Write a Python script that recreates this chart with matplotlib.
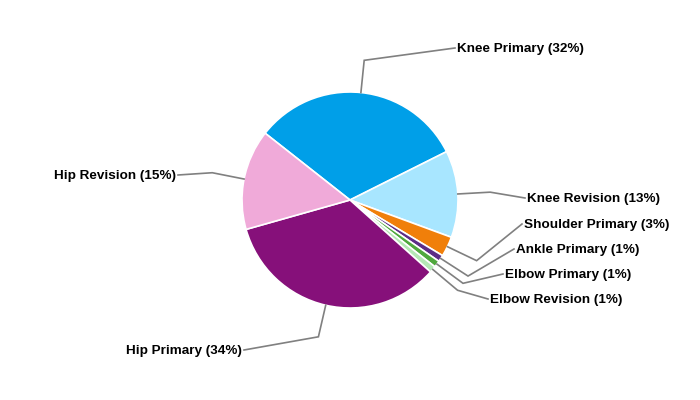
import matplotlib.pyplot as plt
import numpy as np

# slices in drawing order (clockwise from the top-left)
labels = ["Knee Primary", "Knee Revision", "Shoulder Primary", "Ankle Primary",
          "Elbow Primary", "Elbow Revision", "Hip Primary", "Hip Revision"]
shares = [32, 13, 3, 1, 1, 1, 34, 15]
colors = ["#009FE8", "#A8E6FF", "#F07F0A", "#5C2D87",
          "#4FA83D", "#B5E8B5", "#86107A", "#F0AAD9"]

# text anchor for each label, in pixels from the top-left corner, and alignment
label_pos = [(457, 49), (527, 199), (524, 225), (516, 250),
             (505, 275), (490, 300), (242, 351), (176, 176)]
label_ha = ["left", "left", "left", "left", "left", "left", "right", "right"]

W, H = 700, 400
cx, cy, R = 350, 200, 108
start = 141.8

fig = plt.figure(figsize=(7, 4), dpi=100)
ax = fig.add_axes([0, 0, 1, 1])

wedges, _ = ax.pie(shares, colors=colors, startangle=start, counterclock=False,
                   center=(cx, H - cy), radius=R,
                   wedgeprops=dict(edgecolor="white", linewidth=1.2))

ax.set_xlim(0, W)
ax.set_ylim(0, H)
ax.set_aspect("equal")
ax.axis("off")

for w, lab, s, (tx, ty), ha in zip(wedges, labels, shares, label_pos, label_ha):
    mid = np.deg2rad((w.theta1 + w.theta2) / 2)
    x0, y0 = cx + R * np.cos(mid), (H - cy) + R * np.sin(mid)
    x1, y1 = cx + 1.3 * R * np.cos(mid), (H - cy) + 1.3 * R * np.sin(mid)
    x2 = tx - 2 if ha == "left" else tx + 2
    ax.plot([x0, x1, x2], [y0, y1, H - ty + 1], color="#808080", lw=1.2,
            solid_joinstyle="miter")
    ax.text(tx, H - ty, f"{lab} ({s}%)", ha=ha, va="center",
            fontsize=9.7, fontweight="bold", family="Liberation Sans")

fig.savefig("out.png", dpi=100)
